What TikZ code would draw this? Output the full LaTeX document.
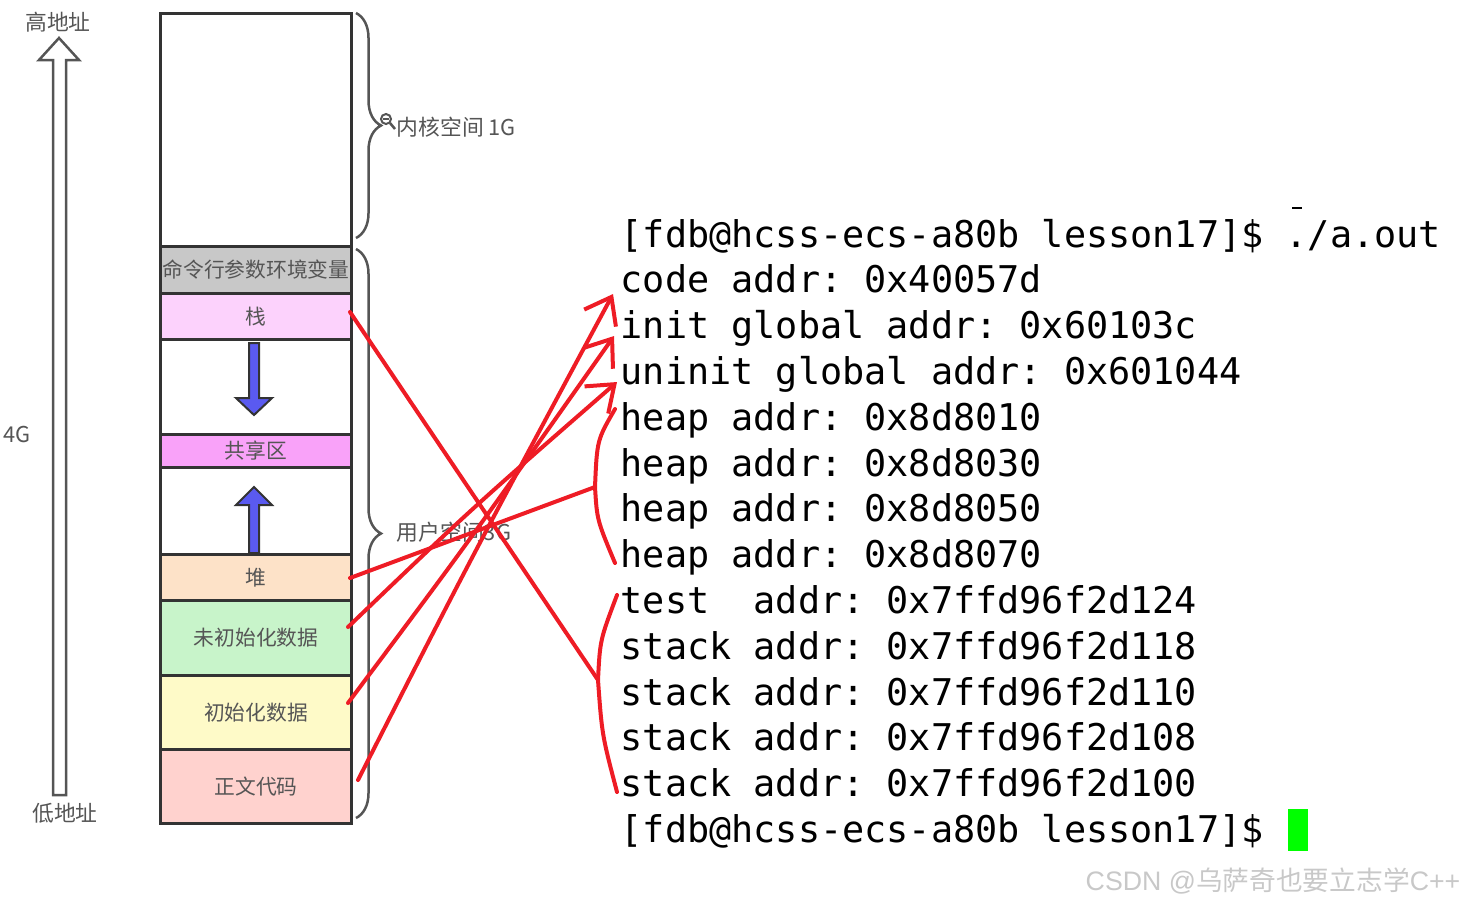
\documentclass[tikz,border=0pt]{standalone}
\usepackage{fontspec}
\newfontfamily\cjk{Noto Sans CJK SC}
\newfontfamily\term{DejaVu Sans Mono}
\newfontfamily\wmlat{Liberation Sans}
\usetikzlibrary{arrows.meta,decorations.pathreplacing}
\definecolor{boxc}{HTML}{333333}
\definecolor{labc}{HTML}{555555}
\definecolor{envc}{HTML}{C8C8C8}
\definecolor{stkc}{HTML}{FCD2FC}
\definecolor{shrc}{HTML}{F9A2F9}
\definecolor{heapc}{HTML}{FDE2C8}
\definecolor{bssc}{HTML}{C8F4CA}
\definecolor{datac}{HTML}{FEFAC8}
\definecolor{textc}{HTML}{FFD2CE}
\definecolor{bluec}{HTML}{5A5AF0}
\definecolor{redc}{HTML}{EE1C25}
\definecolor{wmc}{HTML}{C8C8C8}
\definecolor{curc}{HTML}{00FF00}
\frenchspacing
\begin{document}
\begin{tikzpicture}[x=0.01cm,y=-0.01cm,
  seg/.style={draw=boxc, line width=0.03cm, minimum width=1.91cm, anchor=north west,
    inner sep=0, font=\cjk\fontsize{5.9}{7}\selectfont, text=labc},
  lab/.style={font=\cjk\fontsize{6.2}{7}\selectfont, text=labc, inner sep=0},
  tl/.style={anchor=base west, inner sep=0, font=\term\fontsize{10.47}{12}\selectfont\frenchspacing},
  redline/.style={draw=redc, line width=0.04cm, line cap=round, line join=round},
  redarr/.style={redline, -{Straight Barb[length=0.24cm,width=0.36cm]}},
  bluearr/.style={fill=bluec, draw=boxc, line width=0.02cm},
  hollow/.style={fill=white, draw=labc, line width=0.025cm},
  bracec/.style={draw=labc, line width=0.025cm, decorate,
    decoration={brace, amplitude=0.25cm, aspect=0.5}}]
\useasboundingbox (0,0) rectangle (1477,905);

% memory layout column
\node[seg, minimum height=2.33cm, fill=white] (kern) at (159,12) {};
\node[seg, minimum height=0.47cm, fill=envc] (env) at (159,245) {命令行参数环境变量};
\node[seg, minimum height=0.46cm, fill=stkc] (stk) at (159,292) {栈};
\node[seg, minimum height=0.95cm, fill=white] (gap1) at (159,338) {};
\node[seg, minimum height=0.33cm, fill=shrc] (shr) at (159,433) {共享区};
\node[seg, minimum height=0.87cm, fill=white] (gap2) at (159,466) {};
\node[seg, minimum height=0.46cm, fill=heapc] (heap) at (159,553) {堆};
\node[seg, minimum height=0.75cm, fill=bssc] (bss) at (159,599) {未初始化数据};
\node[seg, minimum height=0.74cm, fill=datac] (data) at (159,674) {初始化数据};
\node[seg, minimum height=0.74cm, fill=textc] (code) at (159,748) {正文代码};

% blue growth arrows
\draw[bluearr] (249,343) -- (259,343) -- (259,398) -- (272,398) -- (254,415)
  -- (236,398) -- (249,398) -- cycle;
\draw[bluearr] (249,553) -- (249,505) -- (236,505) -- (254,487) -- (272,505)
  -- (259,505) -- (259,553) -- cycle;

% left address arrow
\draw[hollow] (53,795) -- (53,60) -- (39,60) -- (59,38) -- (79,60) -- (66,60)
  -- (66,795) -- cycle;
\node[lab] (hi) at (58,22) {高地址};
\node[lab] (lo) at (65,813) {低地址};
\node[lab] (fourg) at (17,434) {4G};

% braces
\draw[bracec] (356,13) -- (356,238);
\draw[bracec] (356,249) -- (356,818);
\draw[labc, line width=0.02cm] (386,119) circle (0.05cm);
\draw[labc, line width=0.02cm] (383,119) -- (389,119);
\draw[labc, line width=0.025cm] (390,123) -- (395,129);
\node[lab, anchor=west] (klab) at (396,127) {内核空间 1G};
\node[lab, anchor=west] (ulab) at (396,532) {用户空间3G};

% terminal output
\node[tl] (t0) at (620,247) {[fdb@hcss-ecs-a80b lesson17]\$ ./a.out};
\node[tl] (t1) at (620,292.8) {code addr: 0x40057d};
\node[tl] (t2) at (620,338.6) {init global addr: 0x60103c};
\node[tl] (t3) at (620,384.4) {uninit global addr: 0x601044};
\node[tl] (t4) at (620,430.2) {heap addr: 0x8d8010};
\node[tl] (t5) at (620,476) {heap addr: 0x8d8030};
\node[tl] (t6) at (620,521.8) {heap addr: 0x8d8050};
\node[tl] (t7) at (620,567.6) {heap addr: 0x8d8070};
\node[tl] (t8) at (620,613.4) {test~~addr: 0x7ffd96f2d124};
\node[tl] (t9) at (620,659.2) {stack addr: 0x7ffd96f2d118};
\node[tl] (t10) at (620,705) {stack addr: 0x7ffd96f2d110};
\node[tl] (t11) at (620,750.8) {stack addr: 0x7ffd96f2d108};
\node[tl] (t12) at (620,796.6) {stack addr: 0x7ffd96f2d100};
\node[tl] (t13) at (620,842.4) {[fdb@hcss-ecs-a80b lesson17]\$};
\node[fill=curc, inner sep=0, minimum width=0.2cm, minimum height=0.42cm, anchor=north west]
  (cursor) at (1287,808) {};
\draw[line width=0.025cm] (1292,208) -- (1302,208);

% watermark
\node[anchor=base west, inner sep=0, text=wmc] (wm) at (1085,890)
  {\wmlat\fontsize{7.6}{9}\selectfont CSDN @\cjk 乌萨奇也要立志学\wmlat C++};

% hand-drawn red annotations
\coordinate (cs) at (358,780);
\coordinate (ds) at (348,703);
\coordinate (bs) at (348,627);
\coordinate (hs) at (350,578);
\coordinate (ss) at (350,312);
\coordinate (ctip) at (613,294);
\coordinate (dtip) at (614,336);
\coordinate (btip) at (617,382);
\coordinate (htop) at (615,409);
\coordinate (hv) at (595,487);
\coordinate (hbot) at (615,563);
\coordinate (stop) at (617,595);
\coordinate (sv) at (598,680);
\coordinate (sbot) at (617,792);

\draw[redarr] (cs) .. controls (470,560) .. (ctip);
\draw[redarr] (ds) .. controls (470,540) .. (dtip);
\draw[redarr] (bs) .. controls (470,510) .. (btip);
\draw[redline] (hs) -- (hv);
\draw[redline] (htop) .. controls (597,440) .. (hv) .. controls (597,520) .. (hbot);
\draw[redline] (ss) -- (sv);
\draw[redline] (stop) .. controls (600,640) .. (sv) .. controls (602,735) .. (sbot);
\end{tikzpicture}
\end{document}
